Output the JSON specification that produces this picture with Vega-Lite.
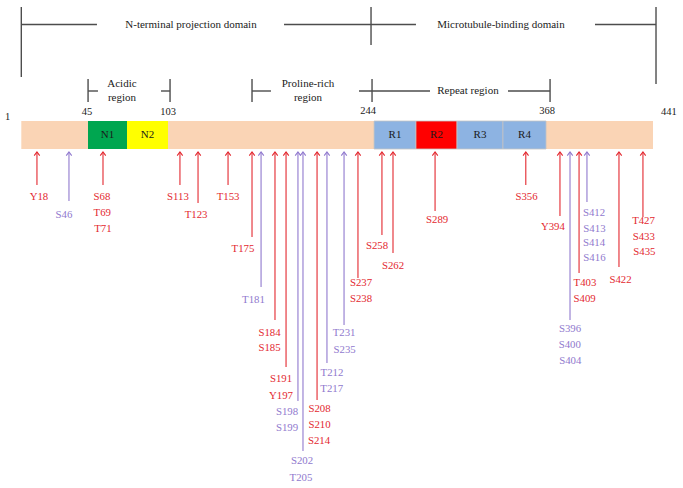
{
  "$schema": "https://vega.github.io/schema/vega-lite/v6.json",
  "width": 683,
  "height": 488,
  "padding": 0,
  "autosize": {"type": "fit", "contains": "padding"},
  "background": "white",
  "config": {"view": {"stroke": null}},
  "datasets": {
    "segments": [
      {"seg": "base", "start": 1, "end": 441, "top": 121, "bottom": 149},
      {"seg": "N1", "start": 47.46, "end": 74.62, "top": 121, "bottom": 149},
      {"seg": "N2", "start": 74.62, "end": 103.18, "top": 121, "bottom": 149},
      {"seg": "R1", "start": 246.7, "end": 275.9, "top": 121, "bottom": 149},
      {"seg": "R2", "start": 275.9, "end": 304.5, "top": 121, "bottom": 149},
      {"seg": "R3", "start": 304.5, "end": 336.5, "top": 121, "bottom": 149},
      {"seg": "R4", "start": 336.5, "end": 366.5, "top": 121, "bottom": 149}
    ],
    "seglabels": [
      {"text": "N1", "x": 61.0, "y": 135},
      {"text": "N2", "x": 88.9, "y": 135},
      {"text": "R1", "x": 261.3, "y": 135},
      {"text": "R2", "x": 290.2, "y": 135},
      {"text": "R3", "x": 320.5, "y": 135},
      {"text": "R4", "x": 351.5, "y": 135}
    ],
    "brackets": [
      {"x": 1, "x2": 1, "y": 7, "y2": 77},
      {"x": 1, "x2": 53.7, "y": 24.5, "y2": 24.5},
      {"x": 184.0, "x2": 275.9, "y": 24.5, "y2": 24.5},
      {"x": 244.6, "x2": 244.6, "y": 7, "y2": 45},
      {"x": 400.6, "x2": 443.1, "y": 24.5, "y2": 24.5},
      {"x": 443.1, "x2": 443.1, "y": 7, "y2": 84},
      {"x": 47.5, "x2": 47.5, "y": 79, "y2": 102},
      {"x": 47.5, "x2": 54.4, "y": 91, "y2": 91},
      {"x": 104.6, "x2": 104.6, "y": 79, "y2": 102},
      {"x": 98.3, "x2": 104.6, "y": 91, "y2": 91},
      {"x": 161.7, "x2": 161.7, "y": 79, "y2": 102},
      {"x": 161.7, "x2": 174.9, "y": 91, "y2": 91},
      {"x": 245.3, "x2": 245.3, "y": 79, "y2": 102},
      {"x": 236.2, "x2": 285.7, "y": 91, "y2": 91},
      {"x": 340.0, "x2": 369.3, "y": 91, "y2": 91},
      {"x": 369.3, "x2": 369.3, "y": 79, "y2": 102}
    ],
    "titles": [
      {"text": "N-terminal projection domain", "x": 119.2, "y": 25},
      {"text": "Microtubule-binding domain", "x": 335.1, "y": 25},
      {"text": "Acidic", "x": 71.1, "y": 84},
      {"text": "region", "x": 71.1, "y": 98},
      {"text": "Proline-rich", "x": 200.7, "y": 84},
      {"text": "region", "x": 200.7, "y": 98},
      {"text": "Repeat region", "x": 312.1, "y": 91}
    ],
    "numbers": [
      {"text": "1", "x": -8.6, "y": 117},
      {"text": "45", "x": 46.8, "y": 112},
      {"text": "103", "x": 103.2, "y": 112},
      {"text": "244", "x": 242.5, "y": 111},
      {"text": "368", "x": 367.2, "y": 111},
      {"text": "441", "x": 452.1, "y": 112}
    ],
    "sites": [
      {"site": "Y18", "x": 11.9, "tip": 152, "end": 185, "set": "A"},
      {"site": "S46", "x": 34.2, "tip": 152, "end": 201, "set": "B"},
      {"site": "S68", "x": 57.9, "tip": 152, "end": 185, "set": "A"},
      {"site": "S113", "x": 111.5, "tip": 152, "end": 185, "set": "A"},
      {"site": "T123", "x": 124.1, "tip": 152, "end": 203, "set": "A"},
      {"site": "T153", "x": 145.0, "tip": 152, "end": 185, "set": "A"},
      {"site": "T175", "x": 161.7, "tip": 152, "end": 237, "set": "A"},
      {"site": "T181", "x": 168.0, "tip": 152, "end": 287, "set": "B"},
      {"site": "S184", "x": 177.7, "tip": 152, "end": 320, "set": "A"},
      {"site": "S191", "x": 185.4, "tip": 152, "end": 367, "set": "A"},
      {"site": "S198", "x": 193.7, "tip": 152, "end": 401, "set": "B"},
      {"site": "S202", "x": 197.2, "tip": 152, "end": 451, "set": "B"},
      {"site": "S208", "x": 207.0, "tip": 152, "end": 400, "set": "A"},
      {"site": "T212", "x": 213.9, "tip": 152, "end": 363, "set": "B"},
      {"site": "T231", "x": 225.8, "tip": 152, "end": 325, "set": "B"},
      {"site": "S237", "x": 235.5, "tip": 152, "end": 278, "set": "A"},
      {"site": "S258", "x": 252.2, "tip": 152, "end": 235, "set": "A"},
      {"site": "S262", "x": 259.9, "tip": 152, "end": 253, "set": "A"},
      {"site": "S289", "x": 289.2, "tip": 152, "end": 211, "set": "A"},
      {"site": "S356", "x": 352.4, "tip": 152, "end": 185, "set": "A"},
      {"site": "Y394", "x": 376.2, "tip": 152, "end": 216, "set": "A"},
      {"site": "S396", "x": 383.2, "tip": 152, "end": 320, "set": "B"},
      {"site": "T403", "x": 389.5, "tip": 152, "end": 273, "set": "A"},
      {"site": "S412", "x": 395.0, "tip": 152, "end": 202, "set": "B"},
      {"site": "S422", "x": 417.3, "tip": 152, "end": 267, "set": "A"},
      {"site": "T427", "x": 434.0, "tip": 152, "end": 217, "set": "A"}
    ],
    "labels": [
      {"text": "Y18", "x": 13.3, "y": 197, "set": "A"},
      {"text": "S46", "x": 30.7, "y": 215, "set": "B"},
      {"text": "S68", "x": 57.2, "y": 197, "set": "A"},
      {"text": "T69", "x": 57.4, "y": 213, "set": "A"},
      {"text": "T71", "x": 57.8, "y": 229, "set": "A"},
      {"text": "S113", "x": 110.1, "y": 197, "set": "A"},
      {"text": "T123", "x": 122.7, "y": 215, "set": "A"},
      {"text": "T153", "x": 145.0, "y": 197, "set": "A"},
      {"text": "T175", "x": 155.4, "y": 249, "set": "A"},
      {"text": "T181", "x": 162.7, "y": 300, "set": "B"},
      {"text": "S184", "x": 173.9, "y": 333, "set": "A"},
      {"text": "S185", "x": 173.9, "y": 348, "set": "A"},
      {"text": "S191", "x": 181.9, "y": 379, "set": "A"},
      {"text": "Y197", "x": 181.9, "y": 396, "set": "A"},
      {"text": "S198", "x": 186.1, "y": 412, "set": "B"},
      {"text": "S199", "x": 186.1, "y": 428, "set": "B"},
      {"text": "S202", "x": 196.5, "y": 461, "set": "B"},
      {"text": "T205", "x": 195.8, "y": 478, "set": "B"},
      {"text": "S208", "x": 208.7, "y": 409, "set": "A"},
      {"text": "S210", "x": 208.7, "y": 425, "set": "A"},
      {"text": "S214", "x": 208.4, "y": 441, "set": "A"},
      {"text": "T212", "x": 217.4, "y": 373, "set": "B"},
      {"text": "T217", "x": 217.2, "y": 389, "set": "B"},
      {"text": "T231", "x": 225.8, "y": 333, "set": "B"},
      {"text": "S235", "x": 226.2, "y": 350, "set": "B"},
      {"text": "S237", "x": 237.6, "y": 283, "set": "A"},
      {"text": "S238", "x": 237.6, "y": 299, "set": "A"},
      {"text": "S258", "x": 248.8, "y": 246, "set": "A"},
      {"text": "S262", "x": 259.9, "y": 266, "set": "A"},
      {"text": "S289", "x": 290.6, "y": 220, "set": "A"},
      {"text": "S356", "x": 352.9, "y": 197, "set": "A"},
      {"text": "Y394", "x": 371.3, "y": 227, "set": "A"},
      {"text": "S396", "x": 383.2, "y": 329, "set": "B"},
      {"text": "S400", "x": 383.0, "y": 345, "set": "B"},
      {"text": "S404", "x": 383.4, "y": 361, "set": "B"},
      {"text": "T403", "x": 393.6, "y": 283, "set": "A"},
      {"text": "S409", "x": 393.4, "y": 299, "set": "A"},
      {"text": "S412", "x": 399.9, "y": 213, "set": "B"},
      {"text": "S413", "x": 400.2, "y": 229, "set": "B"},
      {"text": "S414", "x": 399.9, "y": 243, "set": "B"},
      {"text": "S416", "x": 400.2, "y": 258, "set": "B"},
      {"text": "S422", "x": 418.4, "y": 280, "set": "A"},
      {"text": "T427", "x": 434.4, "y": 221, "set": "A"},
      {"text": "S433", "x": 434.6, "y": 237, "set": "A"},
      {"text": "S435", "x": 435.0, "y": 252, "set": "A"}
    ]
  },
  "layer": [
    {
      "data": {"name": "segments"},
      "mark": {"type": "rect", "strokeWidth": 0.8},
      "encoding": {
        "x": {"field": "start", "type": "quantitative", "scale": {"domain": [-13.84, 461.9], "nice": false, "zero": false}, "axis": null},
        "x2": {"field": "end"},
        "y": {"field": "top", "type": "quantitative", "scale": {"domain": [0, 488], "reverse": true, "nice": false, "zero": false}, "axis": null},
        "y2": {"field": "bottom"},
        "fill": {"field": "seg", "type": "nominal", "legend": null,
          "scale": {"domain": ["base", "N1", "N2", "R1", "R2", "R3", "R4"],
                    "range": ["#FAD4B5", "#00A650", "#FFFF00", "#8DB3E2", "#FF0000", "#8DB3E2", "#8DB3E2"]}},
        "stroke": {"condition": {"test": "indexof(datum.seg, 'R') === 0", "value": "#c4c4c4"}, "value": null}
      }
    },
    {
      "data": {"name": "seglabels"},
      "mark": {"type": "text", "font": "Liberation Serif", "fontSize": 11, "fill": "#1a1a1a", "baseline": "middle", "align": "center"},
      "encoding": {
        "x": {"field": "x", "type": "quantitative", "scale": {"domain": [-13.84, 461.9], "nice": false, "zero": false}, "axis": null},
        "y": {"field": "y", "type": "quantitative", "scale": {"domain": [0, 488], "reverse": true, "nice": false, "zero": false}, "axis": null},
        "text": {"field": "text", "type": "nominal"}
      }
    },
    {
      "data": {"name": "brackets"},
      "mark": {"type": "rule", "color": "#4d4d4d", "strokeWidth": 1.4},
      "encoding": {
        "x": {"field": "x", "type": "quantitative", "scale": {"domain": [-13.84, 461.9], "nice": false, "zero": false}, "axis": null},
        "x2": {"field": "x2"},
        "y": {"field": "y", "type": "quantitative", "scale": {"domain": [0, 488], "reverse": true, "nice": false, "zero": false}, "axis": null},
        "y2": {"field": "y2"}
      }
    },
    {
      "data": {"name": "titles"},
      "mark": {"type": "text", "font": "Liberation Serif", "fontSize": 11, "fill": "#222222", "baseline": "middle", "align": "center"},
      "encoding": {
        "x": {"field": "x", "type": "quantitative", "scale": {"domain": [-13.84, 461.9], "nice": false, "zero": false}, "axis": null},
        "y": {"field": "y", "type": "quantitative", "scale": {"domain": [0, 488], "reverse": true, "nice": false, "zero": false}, "axis": null},
        "text": {"field": "text", "type": "nominal"}
      }
    },
    {
      "data": {"name": "numbers"},
      "mark": {"type": "text", "font": "Liberation Serif", "fontSize": 10.5, "fill": "#222222", "baseline": "middle", "align": "center"},
      "encoding": {
        "x": {"field": "x", "type": "quantitative", "scale": {"domain": [-13.84, 461.9], "nice": false, "zero": false}, "axis": null},
        "y": {"field": "y", "type": "quantitative", "scale": {"domain": [0, 488], "reverse": true, "nice": false, "zero": false}, "axis": null},
        "text": {"field": "text", "type": "nominal"}
      }
    },
    {
      "data": {"name": "sites"},
      "mark": {"type": "rule", "strokeWidth": 1.1},
      "encoding": {
        "x": {"field": "x", "type": "quantitative", "scale": {"domain": [-13.84, 461.9], "nice": false, "zero": false}, "axis": null},
        "y": {"field": "tip", "type": "quantitative", "scale": {"domain": [0, 488], "reverse": true, "nice": false, "zero": false}, "axis": null},
        "y2": {"field": "end"},
        "color": {"field": "set", "type": "nominal", "legend": null, "scale": {"domain": ["A", "B"], "range": ["#E3282F", "#9079CE"]}}
      }
    },
    {
      "data": {"name": "sites"},
      "mark": {"type": "point", "shape": "M-1,1.3L0,0L1,1.3", "filled": false, "size": 30, "strokeWidth": 1.1, "opacity": 1},
      "encoding": {
        "x": {"field": "x", "type": "quantitative", "scale": {"domain": [-13.84, 461.9], "nice": false, "zero": false}, "axis": null},
        "y": {"field": "tip", "type": "quantitative", "scale": {"domain": [0, 488], "reverse": true, "nice": false, "zero": false}, "axis": null},
        "color": {"field": "set", "type": "nominal", "legend": null, "scale": {"domain": ["A", "B"], "range": ["#E3282F", "#9079CE"]}}
      }
    },
    {
      "data": {"name": "labels"},
      "mark": {"type": "text", "font": "Liberation Serif", "fontSize": 10.8, "baseline": "middle", "align": "center"},
      "encoding": {
        "x": {"field": "x", "type": "quantitative", "scale": {"domain": [-13.84, 461.9], "nice": false, "zero": false}, "axis": null},
        "y": {"field": "y", "type": "quantitative", "scale": {"domain": [0, 488], "reverse": true, "nice": false, "zero": false}, "axis": null},
        "text": {"field": "text", "type": "nominal"},
        "color": {"field": "set", "type": "nominal", "legend": null, "scale": {"domain": ["A", "B"], "range": ["#E3282F", "#9079CE"]}}
      }
    }
  ]
}
